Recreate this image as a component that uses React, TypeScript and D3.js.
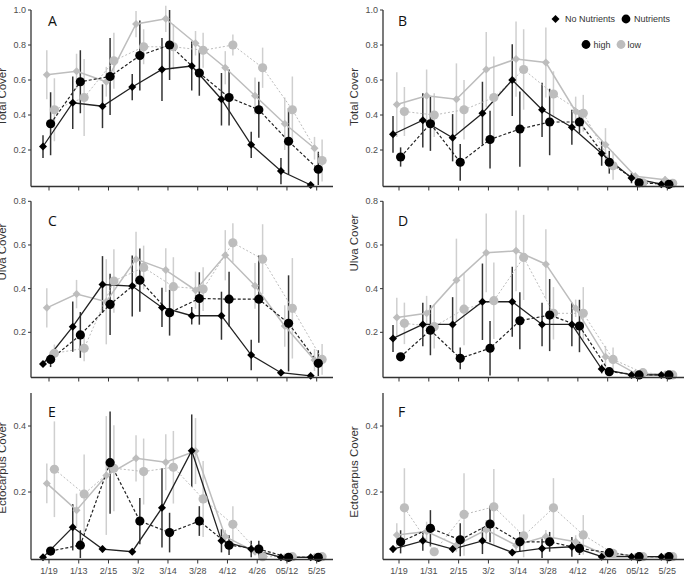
import React from "react";
import * as d3 from "d3";

// sampling dates (left column / right column)
const datesLeft = ["1/19", "1/13", "2/15", "3/2", "3/14", "3/28", "4/12", "4/26", "05/12", "5/25"];
const datesRight = ["1/19", "1/31", "2/15", "3/2", "3/14", "3/28", "4/12", "4/26", "05/12", "5/25"];

const totalTicks = [0.2, 0.4, 0.6, 0.8, 1.0];
const ulvaTicks = [0.2, 0.4, 0.6, 0.8];
const ectoTicks = [0.2, 0.4];

// A: total cover, high
const aNoHigh = [0.22, 0.47, 0.45, 0.56, 0.66, 0.68, 0.49, 0.23, 0.08, 0.0];
const aNoHighSe = [0.065, 0.15, 0.125, 0.075, 0.18, 0.14, 0.15, 0.075, 0.075, 0];
const aNoLow = [0.63, 0.65, 0.59, 0.92, 0.95, 0.81, 0.67, 0.51, 0.35, 0.21];
const aNoLowSe = [0.14, 0.1, 0.085, 0.075, 0.075, 0.07, 0.095, 0.105, 0.15, 0.065];
const aNutHigh = [0.35, 0.59, 0.62, 0.74, 0.8, 0.64, 0.5, 0.43, 0.25, 0.09];
const aNutHighSe = [0.18, 0.18, 0.22, 0.2, 0.2, 0.13, 0.16, 0.16, 0.19, 0.1];
const aNutLow = [0.43, 0.5, 0.71, 0.79, 0.79, 0.77, 0.8, 0.67, 0.43, 0.14];
const aNutLowSe = [0.18, 0.22, 0.16, 0.1, 0.13, 0.1, 0.06, 0.115, 0.19, 0.12];

// B: total cover, low
const bNoHigh = [0.29, 0.37, 0.27, 0.41, 0.6, 0.43, 0.33, 0.18, 0.04, 0.005];
const bNoHighSe = [0.105, 0.155, 0.135, 0.18, 0.205, 0.155, 0.1, 0.07, 0.03, 0.01];
const bNoLow = [0.46, 0.51, 0.49, 0.66, 0.72, 0.7, 0.42, 0.23, 0.05, 0.03];
const bNoLowSe = [0.185, 0.15, 0.205, 0.215, 0.215, 0.2, 0.085, 0.095, 0.02, 0.02];
const bNutHigh = [0.16, 0.35, 0.13, 0.26, 0.32, 0.36, 0.36, 0.13, 0.013, 0.004];
const bNutHighSe = [0.055, 0.155, 0.105, 0.165, 0.215, 0.19, 0.065, 0.065, 0.01, 0.005];
const bNutLow = [0.42, 0.4, 0.43, 0.5, 0.66, 0.52, 0.41, 0.11, 0.013, 0.01];
const bNutLowSe = [0.14, 0.125, 0.17, 0.235, 0.23, 0.13, 0.105, 0.08, 0.01, 0.01];

// C: ulva cover, high
const cNoHigh = [0.055, 0.226, 0.419, 0.412, 0.314, 0.276, 0.276, 0.096, 0.015, 0.001];
const cNoHighSe = [0.01, 0.115, 0.13, 0.14, 0.09, 0.04, 0.11, 0.07, 0.01, 0];
const cNoLow = [0.312, 0.375, 0.34, 0.535, 0.485, 0.393, 0.553, 0.413, 0.229, 0.073];
const cNoLowSe = [0.09, 0.065, 0.195, 0.125, 0.1, 0.085, 0.115, 0.105, 0.095, 0.05];
const cNutHigh = [0.076, 0.188, 0.328, 0.439, 0.29, 0.355, 0.352, 0.352, 0.241, 0.058];
const cNutHighSe = [0.035, 0.105, 0.14, 0.145, 0.105, 0.12, 0.125, 0.2, 0.22, 0.06];
const cNutLow = [0.104, 0.127, 0.435, 0.497, 0.409, 0.398, 0.61, 0.535, 0.31, 0.076];
const cNutLowSe = [0.04, 0.06, 0.145, 0.1, 0.135, 0.1, 0.09, 0.16, 0.23, 0.07];

// D: ulva cover, low
const dNoHigh = [0.172, 0.236, 0.236, 0.34, 0.34, 0.236, 0.236, 0.032, 0.005, 0.005];
const dNoHighSe = [0.062, 0.1, 0.125, 0.175, 0.16, 0.1, 0.1, 0.02, 0.005, 0.005];
const dNoLow = [0.268, 0.287, 0.439, 0.564, 0.573, 0.512, 0.31, 0.088, 0.012, 0.008];
const dNoLowSe = [0.09, 0.08, 0.19, 0.18, 0.185, 0.16, 0.04, 0.05, 0.01, 0.01];
const dNutHigh = [0.088, 0.21, 0.081, 0.127, 0.253, 0.279, 0.229, 0.02, 0.005, 0.005];
const dNutHighSe = [0.01, 0.115, 0.05, 0.125, 0.13, 0.165, 0.12, 0.015, 0.005, 0.005];
const dNutLow = [0.241, 0.226, 0.306, 0.345, 0.543, 0.287, 0.287, 0.076, 0.015, 0.005];
const dNutLowSe = [0.095, 0.1, 0.165, 0.175, 0.195, 0.12, 0.12, 0.055, 0.01, 0.005];

// E: ectocarpus cover, high
const eNoHigh = [0.002, 0.093, 0.027, 0.019, 0.152, 0.325, 0.052, 0.027, 0.002, 0.002];
const eNoHighSe = [0, 0.07, 0.01, 0.01, 0.12, 0.11, 0.035, 0.025, 0, 0];
const eNoLow = [0.226, 0.145, 0.25, 0.302, 0.29, 0.324, 0.065, 0.019, 0.002, 0.003];
const eNoLowSe = [0.06, 0.05, 0.18, 0.07, 0.085, 0.1, 0.02, 0.01, 0, 0];
const eNutHigh = [0.021, 0.039, 0.289, 0.112, 0.077, 0.112, 0.039, 0.027, 0.002, 0.002];
const eNutHighSe = [0.01, 0.045, 0.155, 0.07, 0.06, 0.045, 0.03, 0.025, 0, 0];
const eNutLow = [0.269, 0.194, 0.272, 0.262, 0.275, 0.179, 0.102, 0.004, 0.004, 0.004];
const eNutLowSe = [0.145, 0.12, 0.13, 0.1, 0.11, 0.115, 0.055, 0.01, 0, 0];

// F: ectocarpus cover, low
const fNoHigh = [0.027, 0.052, 0.027, 0.052, 0.017, 0.029, 0.034, 0.004, 0.004, 0.004];
const fNoHighSe = [0.01, 0.03, 0.01, 0.04, 0.01, 0.03, 0.03, 0.005, 0, 0];
const fNoLow = [0.07, 0.08, 0.039, 0.085, 0.039, 0.065, 0.049, 0.009, 0.004, 0.004];
const fNoLowSe = [0.035, 0.03, 0.02, 0.03, 0.02, 0.02, 0.02, 0.005, 0, 0];
const fNutHigh = [0.049, 0.09, 0.055, 0.103, 0.049, 0.049, 0.029, 0.016, 0.004, 0.004];
const fNutHighSe = [0.035, 0.055, 0.05, 0.055, 0.03, 0.03, 0.02, 0.01, 0, 0];
const fNutLow = [0.152, 0.019, 0.132, 0.155, 0.067, 0.152, 0.07, 0.014, 0.004, 0.004];
const fNutLowSe = [0.12, 0.01, 0.125, 0.115, 0.065, 0.09, 0.06, 0.01, 0, 0];

const FONT = "'Liberation Sans', Arial, sans-serif";
const DARK = "#222";
const LIGHT = "#bdbdbd";

// draw order: grey series under black ones
const seriesStyle = [
  { id: "noLow", shape: "diamond", fill: LIGHT, bar: "#cfcfcf", dash: null, width: 1.5, dx: -2.2 },
  { id: "nutLow", shape: "circle", fill: LIGHT, bar: "#cfcfcf", dash: "2,2", width: 1, dx: 5.4 },
  { id: "noHigh", shape: "diamond", fill: "#000", bar: "#333", dash: null, width: 1.3, dx: -6 },
  { id: "nutHigh", shape: "circle", fill: "#000", bar: "#333", dash: "3,2", width: 1.2, dx: 1.6 },
];

const panels = [
  { letter: "A", left: 31, x0: 49, x1: 316.7, right: 333, y0: 185, yTop: 10, max: 1, ticks: totalTicks, title: "Total Cover", titleY: 97, dates: datesLeft, labels: false, letterY: 26,
    series: { noHigh: [aNoHigh, aNoHighSe], noLow: [aNoLow, aNoLowSe], nutHigh: [aNutHigh, aNutHighSe], nutLow: [aNutLow, aNutLowSe] } },
  { letter: "B", left: 383, x0: 399, x1: 667.3, right: 684, y0: 185, yTop: 10, max: 1, ticks: totalTicks, title: "Total Cover", titleY: 97, dates: datesRight, labels: false, letterY: 26,
    series: { noHigh: [bNoHigh, bNoHighSe], noLow: [bNoLow, bNoLowSe], nutHigh: [bNutHigh, bNutHighSe], nutLow: [bNutLow, bNutLowSe] } },
  { letter: "C", left: 31, x0: 49, x1: 316.7, right: 333, y0: 376, yTop: 201.3, max: 0.8, ticks: ulvaTicks, title: "Ulva Cover", titleY: 252, dates: datesLeft, labels: false, letterY: 226,
    series: { noHigh: [cNoHigh, cNoHighSe], noLow: [cNoLow, cNoLowSe], nutHigh: [cNutHigh, cNutHighSe], nutLow: [cNutLow, cNutLowSe] } },
  { letter: "D", left: 383, x0: 399, x1: 667.3, right: 684, y0: 376, yTop: 201.3, max: 0.8, ticks: ulvaTicks, title: "Ulva Cover", titleY: 243, dates: datesRight, labels: false, letterY: 226,
    series: { noHigh: [dNoHigh, dNoHighSe], noLow: [dNoLow, dNoLowSe], nutHigh: [dNutHigh, dNutHighSe], nutLow: [dNutLow, dNutLowSe] } },
  { letter: "E", left: 31, x0: 49, x1: 316.7, right: 333, y0: 558, yTop: 393, max: 0.5, ticks: ectoTicks, title: "Ectocarpus Cover", titleY: 468, dates: datesLeft, labels: true, letterY: 417,
    series: { noHigh: [eNoHigh, eNoHighSe], noLow: [eNoLow, eNoLowSe], nutHigh: [eNutHigh, eNutHighSe], nutLow: [eNutLow, eNutLowSe] } },
  { letter: "F", left: 383, x0: 399, x1: 667.3, right: 684, y0: 558, yTop: 393, max: 0.5, ticks: ectoTicks, title: "Ectocarpus Cover", titleY: 472, dates: datesRight, labels: true, letterY: 417,
    series: { noHigh: [fNoHigh, fNoHighSe], noLow: [fNoLow, fNoLowSe], nutHigh: [fNutHigh, fNutHighSe], nutLow: [fNutLow, fNutLowSe] } },
];

const diamond = (cx: number, cy: number, r: number) =>
  `M${cx},${cy - r}L${cx + r},${cy}L${cx},${cy + r}L${cx - r},${cy}Z`;

function Panel({ p }: { p: any }) {
  const x = d3.scalePoint<string>().domain(p.dates).range([p.x0, p.x1]);
  const y = d3.scaleLinear().domain([0, p.max]).range([p.y0, p.yTop]);
  const axisY = p.y0 + 1.5;
  const fmt = d3.format(".1f");

  return (
    <g>
      {/* error bars */}
      {seriesStyle.map((s) => {
        const [mean, se] = p.series[s.id];
        return (
          <g key={s.id + "err"}>
            {mean.map((m: number, i: number) =>
              se[i] > 0 ? (
                <line key={i} x1={x(p.dates[i])! + s.dx} x2={x(p.dates[i])! + s.dx}
                  y1={y(Math.max(0, m - se[i]))} y2={y(m + se[i])}
                  stroke={s.bar} strokeWidth={1.5} />
              ) : null
            )}
          </g>
        );
      })}
      {/* connecting lines */}
      {seriesStyle.map((s) => {
        const [mean] = p.series[s.id];
        const line = d3.line<number>()
          .x((_, i) => x(p.dates[i])! + s.dx)
          .y((d) => y(d));
        return (
          <path key={s.id + "line"} d={line(mean) ?? ""} fill="none"
            stroke={s.fill === "#000" ? DARK : LIGHT} strokeWidth={s.width}
            strokeDasharray={s.dash ?? undefined} />
        );
      })}
      {/* points */}
      {seriesStyle.map((s) => {
        const [mean] = p.series[s.id];
        return (
          <g key={s.id + "pts"}>
            {mean.map((m: number, i: number) => {
              const cx = x(p.dates[i])! + s.dx;
              const cy = y(m);
              return s.shape === "circle" ? (
                <circle key={i} cx={cx} cy={cy} r={4.6} fill={s.fill} />
              ) : (
                <path key={i} d={diamond(cx, cy, 4)} fill={s.fill} />
              );
            })}
          </g>
        );
      })}
      {/* axes */}
      <line x1={p.left} x2={p.left} y1={p.yTop} y2={axisY} stroke="#333" strokeWidth={1.3} />
      <line x1={p.left} x2={p.right} y1={axisY} y2={axisY} stroke="#333" strokeWidth={1.3} />
      {p.ticks.map((t: number) => (
        <g key={t}>
          <line x1={p.left - 3} x2={p.left} y1={y(t)} y2={y(t)} stroke="#333" strokeWidth={1} />
          <text x={p.left - 5} y={y(t)} dy="0.35em" textAnchor="end" fontSize={9}
            fontFamily={FONT} fill="#4d4d4d">{fmt(t)}</text>
        </g>
      ))}
      {p.dates.map((d: string) => (
        <g key={d}>
          <line x1={x(d)} x2={x(d)} y1={axisY} y2={axisY + 4} stroke="#333" strokeWidth={1} />
          {p.labels && (
            <text x={x(d)} y={axisY + 14.5} textAnchor="middle" fontSize={9}
              fontFamily={FONT} fill="#4d4d4d">{d}</text>
          )}
        </g>
      ))}
      <text transform={`translate(${p.left - 25},${p.titleY}) rotate(-90)`} textAnchor="middle"
        fontSize={11.5} fontFamily={FONT} fill="#333">{p.title}</text>
      <text x={p.x0 - 1} y={p.letterY} fontSize={14} fontFamily="'Open Sans', sans-serif" fill="#111">{p.letter}</text>
    </g>
  );
}

function Legend() {
  return (
    <g fontFamily={FONT} fontSize={9} fill="#333">
      <path d={diamond(555.5, 19, 4)} fill="#000" />
      <text x={565} y={22}>No Nutrients</text>
      <circle cx={626} cy={19} r={4.4} fill="#000" />
      <text x={634} y={22}>Nutrients</text>
      <circle cx={586} cy={44.5} r={4.4} fill="#000" />
      <text x={593.5} y={47.5}>high</text>
      <circle cx={621} cy={44.5} r={4.4} fill={LIGHT} />
      <text x={627.5} y={47.5}>low</text>
    </g>
  );
}

export default function App() {
  return (
    <svg width={688} height={577} style={{ position: "absolute", left: 0, top: 0, background: "#fff" }}>
      {panels.map((p) => (
        <Panel key={p.letter} p={p} />
      ))}
      <Legend />
    </svg>
  );
}
